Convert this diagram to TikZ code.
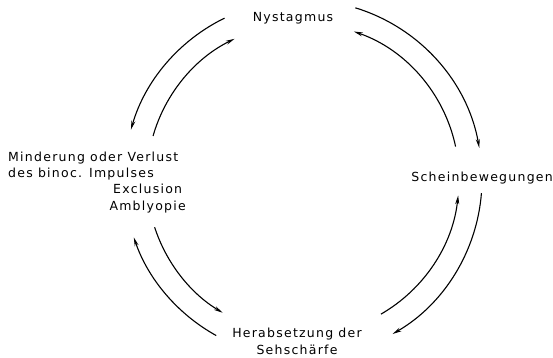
\documentclass[tikz,border=0pt]{standalone}
\usepackage{fontspec}
\setmainfont{DejaVu Sans}[LetterSpace=10]
\usetikzlibrary{arrows.meta}
\tikzset{
  flow/.style={-{Stealth[length=9pt,width=4pt]}, line width=1.1pt},
  lbl/.style={font=\fontsize{12.5}{16.5}\selectfont, inner sep=0pt}
}
\begin{document}
\begin{tikzpicture}[x=1pt,y=1pt]
  \useasboundingbox (0,0) rectangle (553,357);
  \coordinate (c) at (303,178);
  % labels
  \node[lbl] (nyst) at (293,339) {Nystagmus};
  \node[lbl, anchor=east] (schein) at (553,179) {Scheinbewegungen};
  \node[lbl, align=center] (herab) at (297,15.5) {Herabsetzung der\\Sehschärfe};
  \node[lbl, align=left, anchor=west] (minder) at (8,191) {Minderung oder Verlust\\des binoc. Impulses};
  \node[lbl, align=center, anchor=east] (excl) at (186,158.5) {Exclusion\\Amblyopie};
  % outer ring
  \draw[flow] ([shift={(116:179pt)}]c) arc[start angle=116, end angle=164, radius=179pt];
  \draw[flow] ([shift={(73:179pt)}]c) arc[start angle=73, end angle=10, radius=179pt];
  \draw[flow] ([shift={(-4.5:179pt)}]c) arc[start angle=-4.5, end angle=-60, radius=179pt];
  \draw[flow] ([shift={(241:179pt)}]c) arc[start angle=241, end angle=199, radius=179pt];
  % inner ring
  \draw[flow] ([shift={(164:156pt)}]c) arc[start angle=164, end angle=116, radius=156pt];
  \draw[flow] ([shift={(12:156pt)}]c) arc[start angle=12, end angle=71, radius=156pt];
  \draw[flow] ([shift={(-60:156pt)}]c) arc[start angle=-60, end angle=-6, radius=156pt];
  \draw[flow] ([shift={(198:156pt)}]c) arc[start angle=198, end angle=239, radius=156pt];
\end{tikzpicture}
\end{document}
